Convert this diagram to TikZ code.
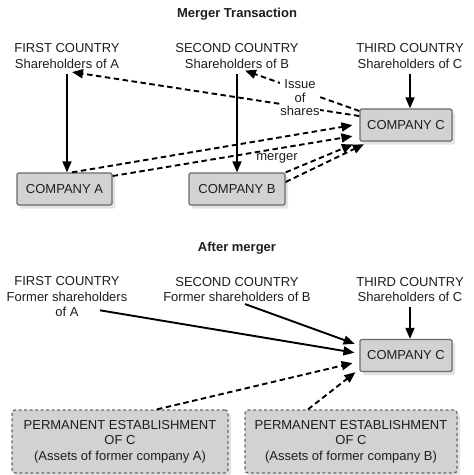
\documentclass[tikz,border=0pt]{standalone}
\usepackage{fontspec}
\setmainfont{Liberation Sans}
\usetikzlibrary{arrows.meta,shadows}
\definecolor{boxfill}{HTML}{D2D2D2}
\definecolor{boxline}{HTML}{6A6A6A}
\definecolor{inkgray}{HTML}{1E1E1E}

\begin{document}
\begin{tikzpicture}
[x=1pt,y=-1pt,
  every node/.style={font=\fontsize{13}{15.5}\selectfont,text=inkgray},%
  titledecorate/.style={font=\fontsize{13}{15.5}\selectfont\bfseries},%
  labeldecorate/.style={align=center,inner sep=2pt},%
  boxdecorate/.style={shape=rectangle,draw=boxline,line width=1.3pt,fill=boxfill,
    rounded corners=1.5pt,minimum height=32pt,inner sep=0pt,align=center,
    drop shadow={shadow xshift=3pt,shadow yshift=-3.5pt,opacity=0.22}},%
  pedecorate/.style={boxdecorate,dash pattern=on 3pt off 2.5pt,rounded corners=3pt,
    minimum height=63pt},%
  solidarrow/.style={-{Triangle[length=11pt,width=9pt]},line width=1.9pt},%
  dasharrow/.style={solidarrow,dash pattern=on 5.5pt off 3.5pt},%
  scale=1]
\useasboundingbox (0,0) rectangle (474,475);
\fill[white] (0,0) rectangle (474,475);
%% titles
\node (title1) at (237,14) [titledecorate] {Merger Transaction};
\node (title2) at (237,248) [titledecorate] {After merger};
%% country labels
\foreach \nodename/\x/\y/\nodetext in {
  %% merger transaction
  fa/67/56/{FIRST COUNTRY\\Shareholders of A},
  sb/237/56/{SECOND COUNTRY\\Shareholders of B},
  tc/410/56/{THIRD COUNTRY\\Shareholders of C},
  %% after merger
  fa2/67/297/{FIRST COUNTRY\\Former shareholders\\of A},
  sb2/237/289.5/{SECOND COUNTRY\\Former shareholders of B},
  tc2/410/289.5/{THIRD COUNTRY\\Shareholders of C}} {
  \node (\nodename) at (\x,\y) [labeldecorate] {\nodetext};
}
%% companies
\foreach \nodename/\x/\y/\w/\nodetext in {
  ca/64.5/189/95/COMPANY A,
  cb/237/189/96/COMPANY B,
  cc/406/125/92/COMPANY C,
  cc2/406/355.5/92/COMPANY C} {
  \node (\nodename) at (\x,\y) [boxdecorate,minimum width=\w pt] {\nodetext};
}
%% permanent establishments
\node (pea) at (120,441.5) [pedecorate,minimum width=216pt]
  {PERMANENT ESTABLISHMENT\\OF C\\(Assets of former company A)};
\node (peb) at (351,441.5) [pedecorate,minimum width=212pt]
  {PERMANENT ESTABLISHMENT\\OF C\\(Assets of former company B)};
%% merger transaction: shareholders
\draw[solidarrow,shorten <=3pt] (fa.south) -- (fa.south |- ca.north);
\draw[solidarrow,shorten <=3pt] (sb.south) -- (sb.south |- cb.north);
\draw[solidarrow,shorten <=3pt] (tc.south) -- (tc.south |- cc.north);
%% issue of shares
\draw[dasharrow] ([yshift=9pt]cc.west) -- ([xshift=5pt,yshift=-1.5pt]fa.south);
\draw[dasharrow] ([yshift=14pt]cc.west) -- ([xshift=8pt]sb.south);
\node (issue) at (300,98) [labeldecorate,fill=white,inner sep=0.5pt,
  font=\fontsize{13}{13.5}\selectfont] {Issue\\of\\shares};
%% merger
\draw[dasharrow,shorten >=7pt] ([xshift=7.5pt]ca.north) -- ([yshift=1pt]cc.west);
\draw[dasharrow,shorten >=7pt] ([yshift=13pt]ca.east) -- ([yshift=-10pt]cc.west);
\draw[dasharrow,shorten >=7pt] (cb.north east) -- (cc.south west);
\draw[dasharrow,shorten >=6pt] ([yshift=7pt]cb.east) -- ([xshift=10pt]cc.south west);
\node (merger) at (277,158) {merger};
%% after merger
\draw[solidarrow,shorten >=5pt] ([xshift=33pt,yshift=9pt]fa2.south) -- ([yshift=2pt]cc2.west);
\draw[solidarrow,shorten >=5pt] ([xshift=8pt]sb2.south) -- ([yshift=10pt]cc2.west);
\draw[solidarrow,shorten <=3pt] (tc2.south) -- (tc2.south |- cc2.north);
\draw[dasharrow,shorten >=7pt] ([xshift=37pt]pea.north) -- ([yshift=-6pt]cc2.west);
\draw[dasharrow,shorten >=5pt] ([xshift=-43pt]peb.north) -- ([yshift=3pt]cc2.south west);
\end{tikzpicture}
\end{document}
